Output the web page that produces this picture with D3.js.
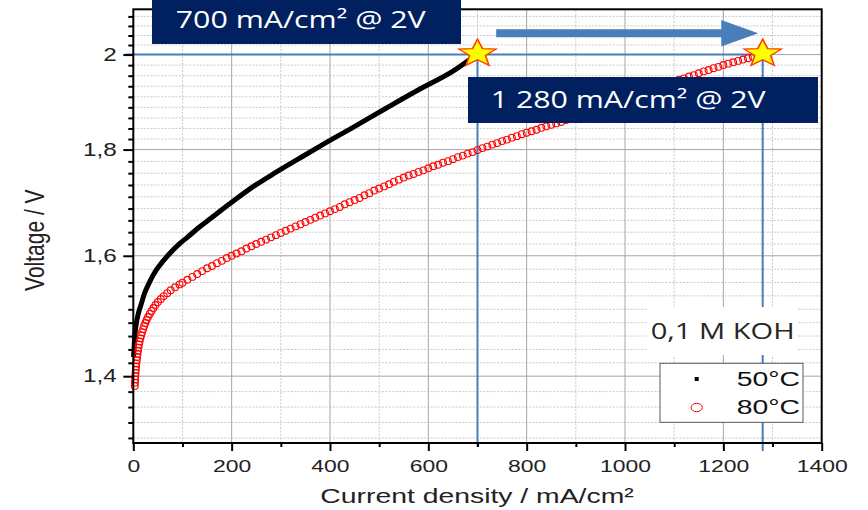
<!DOCTYPE html>
<html>
<head>
<meta charset="utf-8">
<script src="https://cdn.jsdelivr.net/npm/d3@7"></script>
<style>
body { margin: 0; background: #fff; }
svg { display: block; font-family: "Liberation Sans", Arial, sans-serif; }
</style>
</head>
<body>
<div id="chart"></div>
<script>
// ---- data ----
const currentTicks = [0, 200, 400, 600, 800, 1000, 1200, 1400];
const currentMinor = [100, 300, 500, 700, 900, 1100, 1300];
const voltageTicks = [1.4, 1.6, 1.8, 2.0];
const voltageDecades = [1.2, 1.4, 1.6, 1.8, 2.0, 2.2]; // minor ticks sit between these

// 50°C : [current density mA/cm², voltage V]
const series50 = [
  [0.5, 1.43], [1.4, 1.441], [2.8, 1.462], [4.5, 1.475], [6.1, 1.484], [10, 1.50],
  [16.3, 1.517], [23, 1.535], [31.3, 1.551], [46.8, 1.575], [60, 1.59], [74, 1.604],
  [92, 1.62], [111, 1.634], [132, 1.65], [155, 1.666], [196, 1.695], [243, 1.727],
  [288, 1.754], [335, 1.781], [380, 1.807], [447, 1.845], [515, 1.885], [583, 1.925],
  [651, 1.964], [698, 2.0]
];

// 80°C
const series80 = [
  [3, 1.385], [3.3, 1.39], [3.7, 1.395], [4.1, 1.40], [4.5, 1.405], [5.0, 1.41], [5.6, 1.415],
  [6.2, 1.42], [6.9, 1.425], [7.7, 1.43], [8.5, 1.435], [9.5, 1.44], [10.5, 1.445],
  [11.6, 1.45], [12.9, 1.455], [14.4, 1.46], [16, 1.465], [17.8, 1.47], [20, 1.475],
  [22, 1.48], [24.5, 1.485], [27, 1.49], [30, 1.495], [33.5, 1.50], [37, 1.505],
  [41, 1.51], [45, 1.515], [50, 1.52], [56, 1.525], [62, 1.53], [69, 1.535], [76, 1.54],
  [85, 1.545], [94, 1.55], [100, 1.553], [110, 1.558], [120, 1.563], [130, 1.568],
  [140, 1.573], [150, 1.578], [160, 1.582], [170, 1.587], [180, 1.591], [190, 1.596],
  [200, 1.600], [210, 1.604], [220, 1.608], [230, 1.613], [240, 1.617], [250, 1.621],
  [260, 1.625], [270, 1.629], [280, 1.633], [290, 1.637], [300, 1.641], [310, 1.645],
  [320, 1.649], [330, 1.653], [340, 1.657], [350, 1.661], [360, 1.665], [370, 1.669],
  [380, 1.673], [390, 1.677], [400, 1.681], [410, 1.685], [420, 1.689], [430, 1.694],
  [440, 1.698], [450, 1.702], [460, 1.706], [470, 1.711], [480, 1.715], [490, 1.720],
  [500, 1.724], [510, 1.728], [520, 1.732], [530, 1.737], [540, 1.741], [550, 1.745],
  [560, 1.749], [570, 1.752], [580, 1.756], [590, 1.759], [600, 1.763], [610, 1.767],
  [620, 1.770], [630, 1.774], [640, 1.777], [650, 1.781], [660, 1.785], [670, 1.788],
  [680, 1.792], [690, 1.795], [700, 1.799], [710, 1.803], [720, 1.806], [730, 1.810],
  [740, 1.813], [750, 1.817], [760, 1.820], [770, 1.824], [780, 1.827], [790, 1.831],
  [800, 1.834], [810, 1.837], [820, 1.840], [830, 1.844], [840, 1.847], [850, 1.850],
  [860, 1.853], [870, 1.856], [880, 1.860], [890, 1.863], [900, 1.866], [910, 1.870],
  [920, 1.873], [930, 1.877], [940, 1.880], [950, 1.884], [960, 1.888], [970, 1.891],
  [980, 1.895], [990, 1.899], [1000, 1.903], [1010, 1.907], [1020, 1.910], [1030, 1.914],
  [1040, 1.918], [1050, 1.922], [1060, 1.926], [1070, 1.930], [1080, 1.933], [1090, 1.937],
  [1100, 1.941], [1110, 1.945], [1120, 1.948], [1130, 1.952], [1140, 1.955], [1150, 1.959],
  [1160, 1.963], [1170, 1.966], [1180, 1.970], [1190, 1.973], [1200, 1.977], [1210, 1.980],
  [1220, 1.983], [1230, 1.986], [1240, 1.989], [1250, 1.992], [1260, 1.995], [1270, 1.997],
  [1280, 2.000]
];

// current density reached at 2 V for each temperature
const targets = [[700, 2.0], [1280, 2.0]];
const callouts = ["700 mA/cm² @ 2V", "1 280 mA/cm² @ 2V"];
const legendLabels = ["50°C", "80°C"];

// ---- layout ----
const width = 868, height = 510;
const margin = { top: 9.3, right: 46.3, bottom: 67, left: 133.3 };
const stretch = 1.35; // the source picture is widened horizontally
const navy = "#002060", guide = "#4a7ebb";

const x = d3.scaleLinear()
    .domain([0, 1400])
    .range([margin.left, width - margin.right]);

const y = d3.scaleLog()
    .domain([1.3, 2.103])
    .range([height - margin.bottom, margin.top]);

const x0 = x.range()[0], x1 = x.range()[1];
const yb = y.range()[0], yt = y.range()[1];

// minor voltage ticks: 8 per major step, evenly spaced on the log axis
const voltageMinor = [];
d3.pairs(voltageDecades).forEach(([a, b]) => {
    for (let i = 1; i < 9; i++) {
        const v = a * Math.pow(b / a, i / 9);
        if (v > y.domain()[0] && v < y.domain()[1]) voltageMinor.push(v);
    }
});

const svg = d3.select("#chart").append("svg")
    .attr("width", width)
    .attr("height", height);

// grid
const grid = svg.append("g");
grid.selectAll(".gxm").data(currentMinor).join("line")
    .attr("x1", d => x(d)).attr("x2", d => x(d)).attr("y1", yb).attr("y2", yt)
    .attr("stroke", "#c8c8c8").attr("stroke-dasharray", "2,1.5");
grid.selectAll(".gym").data(voltageMinor).join("line")
    .attr("x1", x0).attr("x2", x1).attr("y1", d => y(d)).attr("y2", d => y(d))
    .attr("stroke", "#c8c8c8").attr("stroke-dasharray", "2,1.5");
grid.selectAll(".gx").data(currentTicks.slice(1, -1)).join("line")
    .attr("x1", d => x(d)).attr("x2", d => x(d)).attr("y1", yb).attr("y2", yt)
    .attr("stroke", "#a6a6a6");
grid.selectAll(".gy").data(voltageTicks).join("line")
    .attr("x1", x0).attr("x2", x1).attr("y1", d => y(d)).attr("y2", d => y(d))
    .attr("stroke", "#a6a6a6");

// blue guides at 2 V
const guides = svg.append("g").attr("stroke", guide).attr("stroke-width", 2);
guides.append("line")
    .attr("x1", x0 - 8).attr("x2", x(d3.max(targets, d => d[0])))
    .attr("y1", y(2)).attr("y2", y(2));
guides.selectAll(".v").data(targets).join("line")
    .attr("x1", d => x(d[0])).attr("x2", d => x(d[0]))
    .attr("y1", d => y(d[1])).attr("y2", (d, i) => yb + (i ? 8 : 4));

// 50°C : dense black squares, drawn as a thick trace
svg.append("path")
    .datum(series50)
    .attr("fill", "none")
    .attr("stroke", "#000")
    .attr("stroke-width", 5)
    .attr("stroke-linejoin", "round")
    .attr("d", d3.line().x(d => x(d[0])).y(d => y(d[1])).curve(d3.curveMonotoneX));

// 80°C : open red circles
svg.append("g")
    .selectAll("circle")
    .data(series80)
    .join("circle")
    .attr("cx", d => x(d[0]))
    .attr("cy", d => y(d[1]))
    .attr("r", 3.4)
    .attr("fill", "none")
    .attr("stroke", "#ff0000")
    .attr("stroke-width", 1.1);

// frame
svg.append("rect")
    .attr("x", x0).attr("y", yt).attr("width", x1 - x0).attr("height", yb - yt)
    .attr("fill", "none").attr("stroke", "#000").attr("stroke-width", 2);

// axes
const fmt = d => d3.format(".1f")(d).replace(/\.0$/, "").replace(".", ",");

const xAxis = svg.append("g")
    .attr("transform", `translate(0,${yb})`)
    .call(d3.axisBottom(x).tickValues(currentTicks).tickSize(8).tickSizeOuter(0).tickPadding(8.6).tickFormat(d3.format("d")));
svg.append("g")
    .attr("transform", `translate(0,${yb})`)
    .call(d3.axisBottom(x).tickValues(currentMinor).tickSize(4).tickSizeOuter(0).tickFormat(""));

const yAxis = svg.append("g")
    .attr("transform", `translate(${x0},0)`)
    .call(d3.axisLeft(y).tickValues(voltageTicks).tickSize(10).tickSizeOuter(0).tickPadding(2.3).tickFormat(fmt));
svg.append("g")
    .attr("transform", `translate(${x0},0)`)
    .call(d3.axisLeft(y).tickValues(voltageMinor).tickSize(5).tickSizeOuter(0).tickFormat(""));

svg.selectAll(".domain").remove();
svg.selectAll(".tick line").attr("stroke", "#000").attr("stroke-width", 2);
xAxis.selectAll("text").attr("font-size", 17).attr("fill", "#222").attr("transform", `scale(${stretch},1)`);
yAxis.selectAll("text").attr("font-size", 18).attr("fill", "#222").attr("transform", `scale(${stretch},1)`);
svg.selectAll(".tick text").attr("font-family", "'Liberation Sans', Arial, sans-serif");

svg.append("text")
    .attr("transform", `translate(477,503) scale(${stretch},1)`)
    .attr("text-anchor", "middle")
    .attr("font-size", 21).attr("fill", "#222")
    .text("Current density / mA/cm²");
svg.append("text")
    .attr("transform", `translate(43.5,${(yb + yt) / 2 + 14}) scale(${stretch},1) rotate(-90)`)
    .attr("text-anchor", "middle")
    .attr("font-size", 21).attr("fill", "#222")
    .text("Voltage / V");

// callout boxes
const boxes = [
    { x: 152, y: 0, w: 309, h: 44, tx: 175.7, ty: 28.3, len: 250 },
    { x: 468, y: 77, w: 350, h: 46, tx: 490.7, ty: 107.7, len: 275 }
];
boxes.forEach((b, i) => {
    svg.append("rect").attr("x", b.x).attr("y", b.y).attr("width", b.w).attr("height", b.h).attr("fill", navy);
    svg.append("text")
        .attr("x", b.tx).attr("y", b.ty)
        .attr("font-family", "'Open Sans', sans-serif")
        .attr("font-size", 23.5)
        .attr("fill", "#fff")
        .attr("textLength", b.len).attr("lengthAdjust", "spacingAndGlyphs")
        .text(callouts[i]);
});

// arrow 700 -> 1280
const ax0 = x(738), ax1 = x(1271), ay = y(2.048);
svg.append("path")
    .attr("fill", guide)
    .attr("d", `M${ax0},${ay - 4}H${ax1 - 37}V${ay - 13.3}L${ax1},${ay}L${ax1 - 37},${ay + 13.3}V${ay + 4}H${ax0}Z`);

// stars on the 2 V points
function starPath(R, r) {
    const p = d3.path();
    for (let i = 0; i < 10; i++) {
        const a = -Math.PI / 2 + i * Math.PI / 5, rad = i % 2 ? r : R;
        i ? p.lineTo(rad * Math.cos(a), rad * Math.sin(a)) : p.moveTo(rad * Math.cos(a), rad * Math.sin(a));
    }
    p.closePath();
    return p.toString();
}
svg.selectAll(".star").data(targets).join("path")
    .attr("transform", d => `translate(${x(d[0])},${y(d[1]) - 1}) scale(${stretch},1)`)
    .attr("d", starPath(14.5, 6.2))
    .attr("fill", "#ffff00")
    .attr("stroke", "#ff3c00")
    .attr("stroke-width", 1.2)
    .attr("stroke-linejoin", "miter");

// electrolyte note
svg.append("rect").attr("x", 647).attr("y", 307).attr("width", 150).attr("height", 48).attr("fill", "#fff");
svg.append("text")
    .attr("x", 650.7).attr("y", 339.3)
    .attr("font-family", "'Open Sans', sans-serif")
    .attr("font-size", 21.5).attr("fill", "#262626")
    .attr("textLength", 144).attr("lengthAdjust", "spacingAndGlyphs")
    .text("0,1 M KOH");

// legend
const legend = svg.append("g");
legend.append("rect")
    .attr("x", 660).attr("y", 363.3).attr("width", 143).attr("height", 59)
    .attr("fill", "#fff").attr("stroke", "#595959").attr("stroke-width", 1);
legend.append("rect").attr("x", 694.7).attr("y", 377).attr("width", 4).attr("height", 4).attr("fill", "#000");
legend.append("ellipse").attr("cx", 696.7).attr("cy", 407.5).attr("rx", 5.6).attr("ry", 4.2)
    .attr("fill", "#fff").attr("stroke", "#ff0000").attr("stroke-width", 1);
legendLabels.forEach((t, i) => {
    legend.append("text")
        .attr("transform", `translate(736.7,${386 + i * 28.3}) scale(${stretch},1)`)
        .attr("font-size", 21).attr("fill", "#111")
        .text(t);
});
</script>
</body>
</html>
